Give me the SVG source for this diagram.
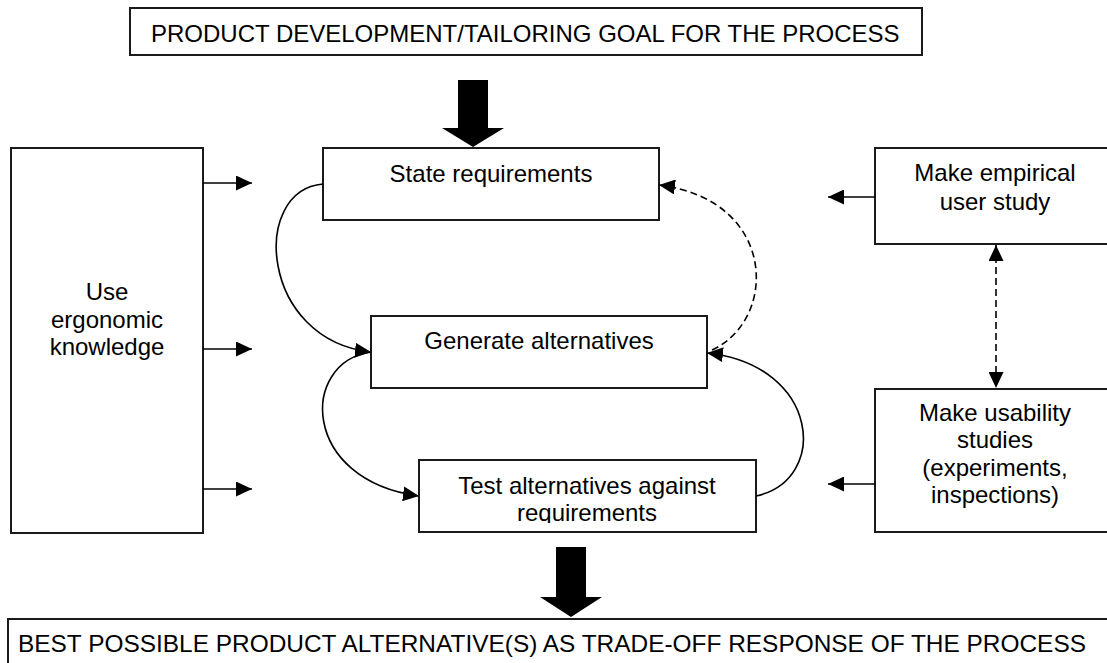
<svg xmlns="http://www.w3.org/2000/svg" width="1107" height="663" viewBox="0 0 1107 663">
<style>
.box{fill:#fff;stroke:#1a1a1a;stroke-width:2}
text{font-family:"Liberation Sans",Arial,sans-serif;font-size:24px;fill:#000}
.c{text-anchor:middle}
.conn{fill:none;stroke:#000;stroke-width:1.6}
.dash{stroke-dasharray:7 4}
.big{fill:#000}
</style>
<defs>
<marker id="ah" markerUnits="userSpaceOnUse" markerWidth="16" markerHeight="15" refX="16" refY="7.5" orient="auto-start-reverse" viewBox="0 0 16 15"><path d="M0,0 L16,7.5 L0,15 z" fill="#000"/></marker>
<clipPath id="clipTest"><rect x="419" y="460" width="337" height="63"/></clipPath>
</defs>
<rect width="1107" height="663" fill="#fff"/>

<g id="goal"><rect class="box" x="130" y="8" width="792" height="47"/><text x="151" y="42">PRODUCT DEVELOPMENT/TAILORING GOAL FOR THE PROCESS</text></g>
<g id="arrow-in"><polygon class="big" points="458,80 488,80 488,128 504,128 473,147 442,128 458,128"/></g>

<g id="ergonomic"><rect class="box" x="11" y="148" width="192" height="385"/>
<text class="c" x="107" y="300">Use</text><text class="c" x="107" y="328">ergonomic</text><text class="c" x="107" y="355">knowledge</text></g>

<g id="state"><rect class="box" x="323" y="148" width="336" height="72"/><text class="c" x="491" y="182">State requirements</text></g>
<g id="generate"><rect class="box" x="371" y="316" width="336" height="72"/><text class="c" x="539" y="349">Generate alternatives</text></g>
<g id="test"><rect class="box" x="419" y="460" width="337" height="72"/>
<g clip-path="url(#clipTest)"><text class="c" x="587" y="494">Test alternatives against</text><text class="c" x="587" y="521">requirements</text></g></g>

<g id="empirical"><rect class="box" x="875" y="148" width="240" height="96"/>
<text class="c" x="995" y="181">Make empirical</text><text class="c" x="995" y="210">user study</text></g>
<g id="usability"><rect class="box" x="875" y="389" width="240" height="143"/>
<text class="c" x="995" y="421">Make usability</text><text class="c" x="995" y="448">studies</text><text class="c" x="995" y="476">(experiments,</text><text class="c" x="995" y="503">inspections)</text></g>

<g id="arrow-out"><polygon class="big" points="556,547 586,547 586,597 602,597 571,617 540,597 556,597"/></g>
<g id="result"><rect class="box" x="8" y="619" width="1112" height="60"/><text x="18" y="652" textLength="1068" lengthAdjust="spacingAndGlyphs">BEST POSSIBLE PRODUCT ALTERNATIVE(S) AS TRADE-OFF RESPONSE OF THE PROCESS</text></g>

<g id="connectors">
<line class="conn" x1="203" y1="183" x2="252" y2="183" marker-end="url(#ah)"/>
<line class="conn" x1="203" y1="349" x2="252" y2="349" marker-end="url(#ah)"/>
<line class="conn" x1="203" y1="489" x2="252" y2="489" marker-end="url(#ah)"/>
<line class="conn" x1="875" y1="197" x2="828" y2="197" marker-end="url(#ah)"/>
<line class="conn" x1="875" y1="484" x2="828" y2="484" marker-end="url(#ah)"/>
<line class="conn dash" x1="996" y1="245" x2="996" y2="388" marker-start="url(#ah)" marker-end="url(#ah)"/>
<path class="conn" d="M323,184 C250,190 260,340 371,352" marker-end="url(#ah)"/>
<path class="conn" d="M371,352 C300,362 300,480 419,496" marker-end="url(#ah)"/>
<path class="conn" d="M756,496 C830,480 820,365 707,353" marker-end="url(#ah)"/>
<path class="conn dash" d="M712,350 C778,320 778,200 659,185" marker-end="url(#ah)"/>
</g>
</svg>
